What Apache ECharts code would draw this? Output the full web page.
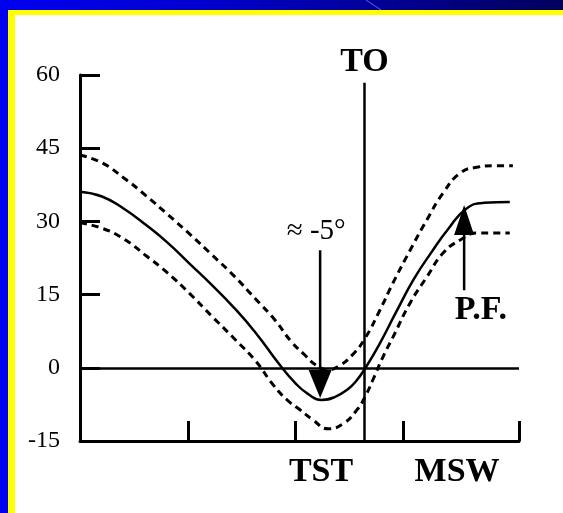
<!DOCTYPE html>
<html>
<head>
<meta charset="utf-8">
<script src="https://cdn.jsdelivr.net/npm/echarts@6/dist/echarts.min.js"></script>
<style>
html,body{margin:0;padding:0;background:#fff;}
#chart{width:563px;height:513px;}
</style>
</head>
<body>
<div id="chart"></div>
<script>
// ---- data (x: position along the gait cycle axis, y: degrees) ----
const yTicks = [-15, 0, 15, 30, 45, 60];
const xTickPos = [24.6, 49.0, 73.6, 100];
const xLabelPos = [54.9, 85.9];
const xLabels = ['TST', 'MSW'];
const toeOffX = 64.8;
const toeOffLabel = 'TO';

const meanX = [0, 5, 10, 15, 20, 25, 30, 35, 40, 45, 49, 52, 55, 58, 61, 63, 64.9, 68, 72, 76, 80, 84, 88, 92, 97.9];
const meanY = [36.1, 35.1, 32.6, 29.3, 25.6, 21.3, 17.0, 12.4, 7.2, 1.2, -3.1, -5.4, -6.6, -6.0, -4.4, -2.6, -0.2, 4.5, 11.4, 18.1, 23.6, 28.6, 32.6, 33.8, 34.0];

const upperX = [0, 5, 10, 15, 20, 25, 30, 35, 40, 44.4, 48, 51, 54, 56.5, 59, 62, 64.9, 68.3, 71.3, 75.2, 79, 82.7, 86.6, 90.4, 94, 98.6];
const upperY = [43.6, 42.0, 38.9, 35.3, 31.4, 27.4, 23.2, 18.9, 14.1, 9.8, 5.5, 2.8, 0.4, -0.4, 0.4, 2.6, 6.0, 11.8, 17.4, 24.1, 30.3, 35.8, 39.9, 41.1, 41.4, 41.4];

const lowerX = [0, 5, 10, 15, 20, 25, 30, 35, 40, 44, 47.2, 50.1, 53.1, 56.5, 59.9, 63.1, 64.9, 66.7, 69, 71.3, 75.2, 79, 82.7, 86.6, 90.4, 94, 97.9];
const lowerY = [29.7, 28.6, 26.4, 23.0, 19.4, 15.2, 10.6, 6.1, 1.4, -3.5, -6.6, -8.6, -10.7, -12.5, -11.5, -8.6, -6.0, -2.5, 2.2, 6.3, 13.3, 18.6, 23.5, 26.2, 27.6, 27.6, 27.6];

// annotations (arrows: x, from y, to y)
const minArrow = [54.7, 24.1, -3.3];
const pfArrow = [87.5, 15.9, 30.3];
const noteText = ['≈ -5°', 'P.F.'];
const noteX = [53.8, 91.3];
const noteY = [28.0, 11.8];

// ---- chart ----
const zip = (xs, ys) => xs.map((x, i) => [x, ys[i]]);
const serif = '"Liberation Serif", "Times New Roman", "DejaVu Serif", serif';
const chart = echarts.init(document.getElementById('chart'));

const option = {
  animation: false,
  backgroundColor: '#ffffff',
  graphic: [
    { type: 'rect', z: 100, shape: { x: 0, y: 0, width: 563, height: 10 },
      style: { fill: { type: 'linear', x: 0, y: 0, x2: 1, y2: 0,
        colorStops: [{ offset: 0, color: '#0000f0' }, { offset: 0.35, color: '#0000d0' }, { offset: 1, color: '#00005c' }] } } },
    { type: 'rect', z: 100, shape: { x: 0, y: 0, width: 8, height: 513 }, style: { fill: '#0000f0' } },
    { type: 'rect', z: 100, shape: { x: 8, y: 10, width: 555, height: 5 }, style: { fill: '#ffff00' } },
    { type: 'rect', z: 100, shape: { x: 8, y: 10, width: 7, height: 503 }, style: { fill: '#ffff00' } },
    { type: 'line', z: 101, shape: { x1: 366, y1: 0, x2: 381, y2: 10 }, style: { stroke: '#5570d8', lineWidth: 1 } }
  ],
  grid: { left: 80, right: 44, top: 75, bottom: 72 },
  xAxis: {
    type: 'value', min: 0, max: 100,
    splitLine: { show: false },
    axisLine: { show: true, onZero: false, lineStyle: { color: '#000', width: 3 } },
    axisTick: { show: true, inside: true, length: 20, customValues: xTickPos, lineStyle: { color: '#000', width: 3 } },
    axisLabel: {
      show: true, customValues: xLabelPos,
      formatter: v => { const i = xLabelPos.indexOf(v); return i >= 0 ? xLabels[i] : ''; },
      fontFamily: serif, fontWeight: 'bold', fontSize: 34, color: '#000', margin: 14
    }
  },
  yAxis: {
    type: 'value', min: -15, max: 60, interval: 15,
    splitLine: { show: false },
    axisLine: { show: true, onZero: false, lineStyle: { color: '#000', width: 3 } },
    axisTick: { show: true, inside: true, length: 20, lineStyle: { color: '#000', width: 3 } },
    axisLabel: { show: true, fontFamily: serif, fontSize: 24, color: '#000', margin: 20,
      customValues: yTicks }
  },
  series: [
    {
      name: 'mean', type: 'line', data: zip(meanX, meanY), smooth: 0.5,
      symbol: 'none', lineStyle: { color: '#000', width: 2.5 }, z: 5,
      markLine: {
        silent: true, symbol: 'none', animation: false,
        lineStyle: { color: '#000', width: 2.5, type: 'solid' },
        label: { show: true, position: 'end', formatter: p => p.name || '',
          fontFamily: serif, fontWeight: 'bold', fontSize: 34, color: '#000', distance: 4 },
        data: [
          { yAxis: 0, name: '', label: { show: false } },
          [ { name: toeOffLabel, coord: [toeOffX, -15] }, { coord: [toeOffX, 58.4] } ]
        ]
      }
    },
    {
      name: 'upper', type: 'line', data: zip(upperX, upperY), smooth: 0.5,
      symbol: 'none', lineStyle: { color: '#000', width: 3, type: [7, 5] }, z: 4
    },
    {
      name: 'lower', type: 'line', data: zip(lowerX, lowerY), smooth: 0.5,
      symbol: 'none', lineStyle: { color: '#000', width: 3, type: [7, 5] }, z: 4
    },
    {
      type: 'line', data: [[minArrow[0], minArrow[1]], [minArrow[0], minArrow[2]]],
      symbol: 'none', lineStyle: { color: '#000', width: 2.5 }, z: 6
    },
    {
      type: 'line', data: [[pfArrow[0], pfArrow[1]], [pfArrow[0], pfArrow[2]]],
      symbol: 'none', lineStyle: { color: '#000', width: 2.5 }, z: 6
    },
    {
      type: 'scatter', clip: false, z: 7, silent: true,
      data: [
        { value: [minArrow[0], minArrow[2]], symbolRotate: 180, symbolSize: [23, 28] },
        { value: [pfArrow[0], pfArrow[2]], symbolRotate: 0, symbolSize: [20, 30] }
      ],
      symbol: 'triangle', itemStyle: { color: '#000', opacity: 1 }
    },
    {
      type: 'scatter', clip: false, z: 8, silent: true, symbolSize: 0,
      itemStyle: { opacity: 1 },
      data: noteText.map((t, i) => ({
        value: [noteX[i], noteY[i]],
        label: {
          show: true, position: 'inside', formatter: t, color: '#000', opacity: 1, fontFamily: serif,
          fontSize: i === 0 ? 29 : 34, fontWeight: i === 0 ? 'normal' : 'bold'
        }
      }))
    }
  ]
};
chart.setOption(option);
</script>
</body>
</html>
